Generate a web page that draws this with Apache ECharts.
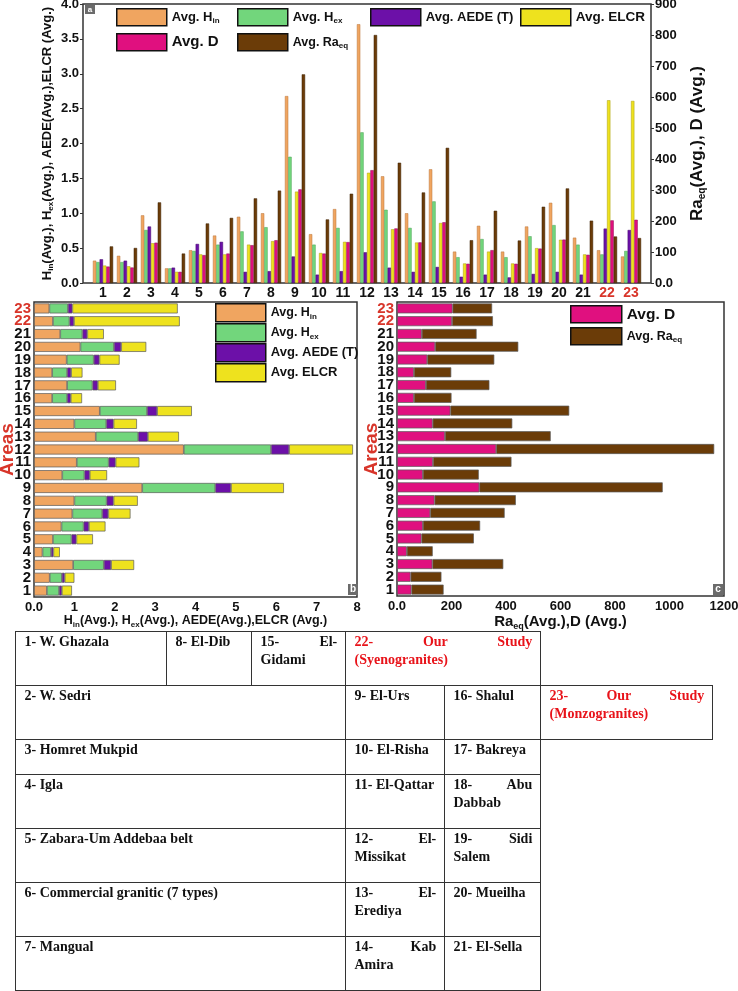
<!DOCTYPE html>
<html><head><meta charset="utf-8">
<script src="https://cdn.jsdelivr.net/npm/echarts@6/dist/echarts.min.js"></script>
<style>
html,body{margin:0;padding:0;background:#fff;}
#chart{position:absolute;left:0;top:0;width:738px;height:991px;}
.cell{position:absolute;box-sizing:border-box;border:1.3px solid #333;font-family:'Liberation Serif','Times New Roman',serif;font-weight:bold;font-size:14px;line-height:18px;padding:1px 8px 0 8.5px;text-align:justify;color:#111;}
.red{color:#E8131A;}
</style></head><body>
<div id="chart"></div>
<div id="table"></div>
<script>
// ---------- DATA ----------
const categories = ['1','2','3','4','5','6','7','8','9','10','11','12','13','14','15','16','17','18','19','20','21','22','23'];
const hin   = [0.32,0.39,0.97,0.21,0.47,0.68,0.95,1.00,2.68,0.70,1.06,3.71,1.53,1.00,1.63,0.45,0.82,0.45,0.81,1.15,0.65,0.47,0.38];
const hex   = [0.30,0.30,0.76,0.21,0.46,0.55,0.74,0.80,1.81,0.55,0.79,2.16,1.05,0.79,1.17,0.37,0.63,0.37,0.67,0.83,0.55,0.41,0.46];
const aedeTop   = [0.34,0.32,0.81,0.22,0.56,0.59,0.16,0.17,0.38,0.12,0.17,0.44,0.22,0.16,0.23,0.09,0.12,0.08,0.13,0.16,0.12,0.78,0.76];
const aedeStack = [0.07,0.07,0.18,0.06,0.12,0.13,0.15,0.17,0.39,0.13,0.17,0.45,0.24,0.18,0.25,0.09,0.13,0.10,0.14,0.18,0.12,0.11,0.11];
const elcr  = [0.25,0.24,0.57,0.16,0.41,0.41,0.55,0.60,1.31,0.43,0.59,1.58,0.77,0.58,0.86,0.28,0.45,0.28,0.50,0.62,0.41,2.62,2.61];
const dose  = [53,50,130,36,90,95,122,138,302,95,132,364,176,131,196,62,106,62,111,140,91,202,204];
const raeq  = [118,113,260,95,192,210,273,298,673,205,288,800,388,292,436,138,233,137,246,305,201,150,145];
const areaNames = ['1- W. Ghazala','2- W. Sedri','3- Homret Mukpid','4- Igla','5- Zabara-Um Addebaa belt','6- Commercial granitic (7 types)','7- Mangual','8- El-Dib','9- El-Urs','10- El-Risha','11- El-Qattar','12- El-Missikat','13- El-Erediya','14- Kab Amira','15- El-Gidami','16- Shalul','17- Bakreya','18- Abu Dabbab','19- Sidi Salem','20- Mueilha','21- El-Sella','22- Our Study (Syenogranites)','23- Our Study (Monzogranites)'];
const highlighted = ['22','23'];

// ---------- STYLE ----------
const F = "'Liberation Sans', Arial, sans-serif";
const RED = '#D8352A';
const C = {hin:'#F0A560', hex:'#72D67C', aede:'#6C10A8', elcr:'#EEE21E', d:'#E0107F', ra:'#6B3C08'};
const BORD = {hin:'#b9743a', hex:'#4aa055', aede:'#3f0768', elcr:'#a89d10', d:'#8e0a50', ra:'#3d2103'};
const NAMES = {hin:'Avg. Hin', hex:'Avg. Hex', aede:'Avg. AEDE (T)', elcr:'Avg. ELCR', d:'Avg. D', ra:'Avg. Raeq'};
const FMT = {
  'Avg. Hin':'{n|Avg. H}{s|in}', 'Avg. Hex':'{n|Avg. H}{s|ex}', 'Avg. AEDE (T)':'{n|Avg. AEDE (T)}',
  'Avg. ELCR':'{n|Avg. ELCR}', 'Avg. D':'{n|Avg. D}', 'Avg. Raeq':'{n|Avg. Ra}{s|eq}'
};
function rich(fs, sfs, color){
  color = color || '#111';
  return {
    n:{fontSize:fs,fontWeight:'bold',fontFamily:F,color:color,lineHeight:fs+3},
    s:{fontSize:sfs,fontWeight:'bold',fontFamily:F,color:color,verticalAlign:'bottom',lineHeight:fs+3}
  };
}
function lg(key,left,top,fs,sfs,w,h){
  const name = NAMES[key];
  return {data:[name], left:left, top:top, padding:0, itemWidth:w, itemHeight:h, icon:'rect',
    selectedMode:false, itemStyle:{borderColor:'#111',borderWidth:1.5},
    formatter:()=>FMT[name], textStyle:{rich:rich(fs,sfs)}};
}
const catColor = v => highlighted.indexOf(v) >= 0 ? RED : '#111';
const lblBase = {fontFamily:F,fontWeight:'bold',fontSize:13,color:'#111'};
const zero0 = v => v === 0 ? '0.0' : String(v);

function topBar(key, data, yIdx){
  return {name:NAMES[key], type:'bar', xAxisIndex:1, yAxisIndex:yIdx, data:data,
    barGap:'0%', barCategoryGap:'16%',
    itemStyle:{color:C[key], borderColor:BORD[key], borderWidth:0.5}};
}
function stackBar(key, data, xIdx, yIdx, stack){
  return {name:NAMES[key], type:'bar', xAxisIndex:xIdx, yAxisIndex:yIdx, data:data, stack:stack,
    barCategoryGap:'22%', itemStyle:{color:C[key], borderColor:'#5a5a5a', borderWidth:0.7}};
}
const G = {outerBoundsMode:'none', containLabel:false};

const option = {
  animation:false,
  backgroundColor:'#fff',
  grid:[
    Object.assign({left:83, top:4, width:568, height:279, show:true, borderColor:'#333', borderWidth:1.5, backgroundColor:'transparent'}, G),
    Object.assign({left:91, top:4, width:552, height:279}, G),
    Object.assign({left:34, top:302, width:323, height:295, show:true, borderColor:'#333', borderWidth:1.5, backgroundColor:'transparent'}, G),
    Object.assign({left:397, top:302, width:327, height:294, show:true, borderColor:'#333', borderWidth:1.5, backgroundColor:'transparent'}, G)
  ],
  xAxis:[
    {gridIndex:0, type:'value', show:false, min:0, max:1},
    {gridIndex:1, type:'category', data:categories, axisLine:{show:false}, axisTick:{show:false},
      axisLabel:Object.assign({}, lblBase, {fontSize:14, margin:3, color:catColor, interval:0})},
    {gridIndex:2, type:'value', min:0, max:8, interval:1, splitLine:{show:false},
      axisLine:{show:false}, axisTick:{show:false},
      axisLabel:Object.assign({}, lblBase, {margin:4, formatter:zero0}),
      name:'{n|H}{s|in}{n|(Avg.), H}{s|ex}{n|(Avg.), AEDE(Avg.),ELCR (Avg.)}', nameLocation:'middle', nameGap:16,
      nameMoveOverlap:false, nameTextStyle:{rich:rich(12.5,8)}},
    {gridIndex:3, type:'value', min:0, max:1200, interval:200, splitLine:{show:false},
      axisLine:{show:false}, axisTick:{show:false},
      axisLabel:Object.assign({}, lblBase, {margin:4, formatter:zero0}),
      name:'{n|Ra}{s|eq}{n|(Avg.),D (Avg.)}', nameLocation:'middle', nameGap:17,
      nameMoveOverlap:false, nameTextStyle:{rich:rich(15,9)}}
  ],
  yAxis:[
    {gridIndex:0, type:'value', position:'left', min:0, max:4, interval:0.5, splitLine:{show:false},
      axisLine:{show:false}, axisTick:{show:true, length:3, lineStyle:{color:'#333'}},
      axisLabel:Object.assign({}, lblBase, {margin:4, formatter:v=>v.toFixed(1)}),
      name:'{n|H}{s|in}{n|(Avg.), H}{s|ex}{n|(Avg.), AEDE(Avg.),ELCR (Avg.)}', nameLocation:'middle', nameGap:28, nameRotate:90,
      nameMoveOverlap:false, nameTextStyle:{rich:rich(13,8)}},
    {gridIndex:0, type:'value', position:'right', min:0, max:900, interval:100, splitLine:{show:false},
      axisLine:{show:false}, axisTick:{show:true, length:3, lineStyle:{color:'#333'}},
      axisLabel:Object.assign({}, lblBase, {margin:4, formatter:zero0}),
      name:'{n|Ra}{s|eq}{n|(Avg.), D (Avg.)}', nameLocation:'middle', nameGap:36, nameRotate:90,
      nameMoveOverlap:false, nameTextStyle:{rich:rich(17,10)}},
    {gridIndex:1, type:'value', min:0, max:4, show:false, splitLine:{show:false}},
    {gridIndex:1, type:'value', min:0, max:900, show:false, splitLine:{show:false}},
    {gridIndex:2, type:'category', data:categories, axisLine:{show:false}, axisTick:{show:false},
      axisLabel:Object.assign({}, lblBase, {fontSize:15, margin:3, color:catColor, interval:0}),
      name:'Areas', nameLocation:'middle', nameGap:17, nameRotate:90, nameMoveOverlap:false,
      nameTextStyle:{fontFamily:F, fontWeight:'bold', fontSize:19, color:RED}},
    {gridIndex:3, type:'category', data:categories, axisLine:{show:false}, axisTick:{show:false},
      axisLabel:Object.assign({}, lblBase, {fontSize:15, margin:3, color:catColor, interval:0}),
      name:'Areas', nameLocation:'middle', nameGap:16, nameRotate:90, nameMoveOverlap:false,
      nameTextStyle:{fontFamily:F, fontWeight:'bold', fontSize:19, color:RED}}
  ],
  legend:[
    lg('hin',116,8,13,8,50,17), lg('hex',237,8,13,8,50,17), lg('aede',370,8,13,8,50,17), lg('elcr',520,8,13.5,8,50,17),
    lg('d',116,33,15,9,50,17), lg('ra',237,33,12.5,8,50,17),
    lg('hin',215,303,12.5,8,50,18), lg('hex',215,323,12.5,8,50,18), lg('aede',215,343,13,8,50,18), lg('elcr',215,363,13,8,50,18),
    lg('d',570,305,15.5,9,51,17), lg('ra',570,327,12.5,8,51,17)
  ],
  graphic:[
    {type:'group', left:85, top:5, children:[
      {type:'rect', shape:{x:0,y:0,width:10,height:9}, style:{fill:'#6b6b6b'}},
      {type:'text', x:5, y:4.5, style:{text:'a', fill:'#fff', font:'bold 8px '+F, align:'center', verticalAlign:'middle'}}]},
    {type:'group', left:348, top:584, children:[
      {type:'rect', shape:{x:0,y:0,width:10,height:11}, style:{fill:'#6b6b6b'}},
      {type:'text', x:5, y:5.5, style:{text:'b', fill:'#fff', font:'bold 10px '+F, align:'center', verticalAlign:'middle'}}]},
    {type:'group', left:713, top:584, children:[
      {type:'rect', shape:{x:0,y:0,width:10,height:11}, style:{fill:'#6b6b6b'}},
      {type:'text', x:5, y:5.5, style:{text:'c', fill:'#fff', font:'bold 10px '+F, align:'center', verticalAlign:'middle'}}]}
  ],
  series:[
    topBar('hin', hin, 2), topBar('hex', hex, 2), topBar('aede', aedeTop, 2), topBar('elcr', elcr, 2),
    topBar('d', dose, 3), topBar('ra', raeq, 3),
    stackBar('hin', hin, 2, 4, 'b'), stackBar('hex', hex, 2, 4, 'b'), stackBar('aede', aedeStack, 2, 4, 'b'), stackBar('elcr', elcr, 2, 4, 'b'),
    stackBar('d', dose, 3, 5, 'c'), stackBar('ra', raeq, 3, 5, 'c')
  ]
};
const chart = echarts.init(document.getElementById('chart'), null, {renderer:'canvas'});
chart.setOption(option);

// ---------- TABLE (area key) ----------
const rowY = [631,685,739,774,828,882,936,990];
const cellLayout = [
  [0,0,15,166],[7,0,166,251],[14,0,251,345],[21,0,345,540],
  [1,1,15,345],[8,1,345,444],[15,1,444,540],[22,1,540,712]
];
for (let r = 2; r <= 6; r++) {
  cellLayout.push([r,r,15,345],[r+7,r,345,444],[r+14,r,444,540]);
}
const tbl = document.getElementById('table');
cellLayout.forEach(c => {
  const d = document.createElement('div');
  d.className = 'cell' + (c[0] >= 21 ? ' red' : '');
  d.style.left = c[2] + 'px';
  d.style.top = rowY[c[1]] + 'px';
  d.style.width = (c[3] - c[2] + 1.3) + 'px';
  d.style.height = (rowY[c[1]+1] - rowY[c[1]] + 1.3) + 'px';
  d.textContent = areaNames[c[0]];
  tbl.appendChild(d);
});
</script></body></html>
